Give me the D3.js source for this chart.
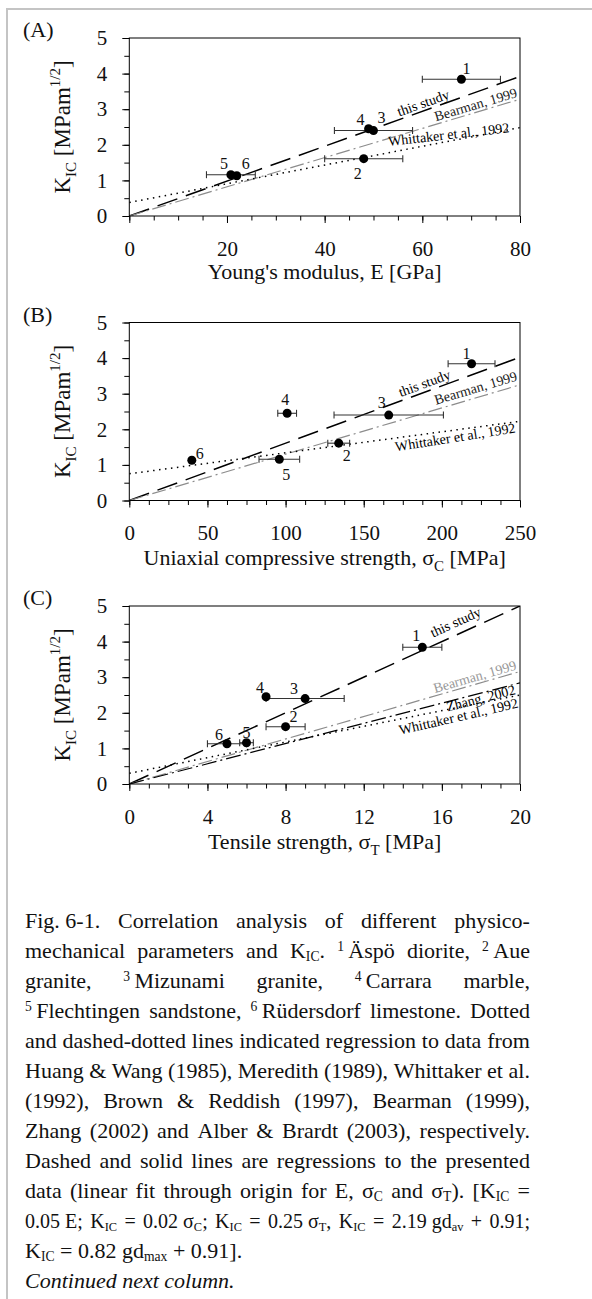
<!DOCTYPE html>
<html>
<head>
<meta charset="utf-8">
<script src="https://cdnjs.cloudflare.com/ajax/libs/d3/7.8.5/d3.min.js"></script>
<style>
  body { margin: 0; background: #fff; }
  #page { position: relative; width: 592px; height: 1299px; overflow: hidden; background: #fff; }
  #page svg { position: absolute; left: 0; top: 0; }
  #caption { position: absolute; left: 25px; top: 906px; width: 505px;
             font-family: "Liberation Serif", serif; font-size: 22px; line-height: 30px; color: #111; }
  #caption .j { display: flex; justify-content: space-between; white-space: nowrap; height: 30px; }
  #caption .l { white-space: nowrap; height: 30px; }
  #caption sub, #caption sup { font-size: 0.62em; line-height: 0; }
  #caption sub { vertical-align: -0.25em; }
  #caption sup { vertical-align: 0.55em; }
</style>
</head>
<body>
<div id="page"></div>
<script>
// ---- data ----
const rockIds = ["1", "2", "3", "4", "5", "6"];
const kicValues = [3.84, 1.61, 2.40, 2.45, 1.16, 1.13];

const youngsModulus = [68, 48, 50, 49, 20.8, 22];
const youngsErr = [8, 8, 8, 0, 5, 0];
const ucsValues = [219, 134, 166, 101, 96, 40];
const ucsErr = [15, 7, 35, 6, 13, 0];
const tensileValues = [15, 8, 9, 7, 6, 5];
const tensileErr = [1, 1, 2, 0, 0.35, 1];

// regression lines: [name, slope, intercept]
const fitsE = [["this study", 0.049, 0], ["Bearman, 1999", 0.041, 0], ["Whittaker et al., 1992", 0.0263, 0.38]];
const fitsUCS = [["this study", 0.0161, 0], ["Bearman, 1999", 0.013, 0], ["Whittaker et al., 1992", 0.0059, 0.75]];
const fitsT = [["this study", 0.25, 0], ["Bearman, 1999", 0.158, 0], ["Zhang, 2002", 0.142, 0], ["Whittaker et al., 1992", 0.11, 0.3]];

const yTicks = [0, 1, 2, 3, 4, 5];
const xTicksE = [0, 20, 40, 60, 80];
const xTicksUCS = [0, 50, 100, 150, 200, 250];
const xTicksT = [0, 4, 8, 12, 16, 20];

// ---- layout / styles ----
const font = "Liberation Serif";
const plotLeft = 129.3, plotRight = 520, plotH = 178;

const fitStyle = {
  "this study": { color: "#000", width: 1.5, dash: "21,9" },
  "Bearman, 1999": { color: "#8c8c8c", width: 1.2, dash: "14,4,2,4" },
  "Zhang, 2002": { color: "#000", width: 1.2, dash: "15,4,2,4" },
  "Whittaker et al., 1992": { color: "#000", width: 1.5, dash: "1.5,4.5" }
};

// number label offsets [dx, dy] per rock, per panel
const ptOffA = [[5, -11], [-6, 15], [8, -13], [-8, -9], [-7, -11], [9, -12]];
const ptOffB = [[-5, -10], [8, 12], [-7, -13], [-2, -14], [7, 15], [8, -7]];
const ptOffC = [[-6, -12], [8, -10], [-11, -10], [-6, -9], [0, -10], [-8, -9]];

// fit label placement: [name, x (data), vertical offset px, angle override, colour]
const fitLabA = [["this study", 60.5, -3, null, "#000"], ["Bearman, 1999", 71.2, -3, null, "#222"],
                 ["Whittaker et al., 1992", 65.5, -2, -6.5, "#000"]];
const fitLabB = [["this study", 189.9, -4, null, "#000"], ["Bearman, 1999", 222.5, -5, null, "#222"],
                 ["Whittaker et al., 1992", 209, 12, -9, "#000"]];
const fitLabC = [["this study", 16.8, -8, null, "#000"], ["Bearman, 1999", 17.75, -3, null, "#999"],
                 ["Zhang, 2002", 18.05, 10, null, "#000"], ["Whittaker et al., 1992", 16.9, 14, -13, "#000"]];

const panels = [
  { tag: "(A)", top: 38, xMax: 80, xMajor: xTicksE, xMinor: 5, xVals: youngsModulus, xErr: youngsErr,
    fits: fitsE, fitLabels: fitLabA, ptOff: ptOffA, titleGap: 68.5,
    title: [["Young's modulus, E [GPa]", false]] },
  { tag: "(B)", top: 322.5, xMax: 250, xMajor: xTicksUCS, xMinor: 12.5, xVals: ucsValues, xErr: ucsErr,
    fits: fitsUCS, fitLabels: fitLabB, ptOff: ptOffB, titleGap: 70,
    title: [["Uniaxial compressive strength, σ", false], ["C", true], [" [MPa]", false]] },
  { tag: "(C)", top: 606, xMax: 20, xMajor: xTicksT, xMinor: 1, xVals: tensileValues, xErr: tensileErr,
    fits: fitsT, fitLabels: fitLabC, ptOff: ptOffC, titleGap: 71,
    title: [["Tensile strength, σ", false], ["T", true], [" [MPa]", false]] }
];

const svg = d3.select("#page").append("svg").attr("width", 592).attr("height", 1299);

// page frame
svg.append("line").attr("x1", 6).attr("x2", 592).attr("y1", 9).attr("y2", 9)
  .attr("stroke", "#c4c4c4").attr("stroke-width", 2);
svg.append("line").attr("x1", 7).attr("x2", 7).attr("y1", 8).attr("y2", 1299)
  .attr("stroke", "#c4c4c4").attr("stroke-width", 2);

panels.forEach((p, pi) => {
  const top = p.top, bottom = top + plotH;
  const x = d3.scaleLinear().domain([0, p.xMax]).range([plotLeft, plotRight]);
  const y = d3.scaleLinear().domain([0, 5]).range([bottom, top]);
  const g = svg.append("g");

  const clipId = "clip" + pi;
  svg.append("clipPath").attr("id", clipId).append("rect")
    .attr("x", plotLeft).attr("y", top).attr("width", plotRight - plotLeft).attr("height", plotH);

  // regression lines
  const fitG = g.append("g").attr("clip-path", `url(#${clipId})`);
  p.fits.forEach(([name, slope, icpt]) => {
    const st = fitStyle[name];
    fitG.append("path").datum([0, p.xMax])
      .attr("d", d3.line().x(d => x(d)).y(d => y(slope * d + icpt)))
      .attr("fill", "none").attr("stroke", st.color).attr("stroke-width", st.width)
      .attr("stroke-dasharray", st.dash);
  });

  // fit labels
  p.fitLabels.forEach(([name, xd, off, angOverride, col]) => {
    const f = p.fits.find(d => d[0] === name);
    const slope = f[1], icpt = f[2];
    const ang = angOverride !== null ? angOverride :
      Math.atan2(y(slope * p.xMax + icpt) - y(icpt), x(p.xMax) - x(0)) * 180 / Math.PI;
    g.append("text")
      .attr("transform", `translate(${x(xd)},${y(slope * xd + icpt) + off}) rotate(${ang})`)
      .attr("text-anchor", "middle").attr("font-family", font).attr("font-size", 14)
      .attr("fill", col).text(name);
  });

  // axes: minor then major ticks
  const styleAxis = a => {
    a.select(".domain").remove();
    a.selectAll("line").attr("stroke", "#000");
    a.selectAll("text").attr("font-family", font).attr("font-size", 21).attr("fill", "#111");
  };
  g.append("g").attr("transform", `translate(0,${bottom})`)
    .call(d3.axisBottom(x).tickValues(d3.range(0, p.xMax + 1e-9, p.xMinor)).tickSize(4.5).tickFormat(""))
    .call(styleAxis);
  g.append("g").attr("transform", `translate(0,${bottom})`)
    .call(d3.axisBottom(x).tickValues(p.xMajor).tickSize(7).tickPadding(18).tickFormat(d3.format("d")))
    .call(styleAxis);
  g.append("g").attr("transform", `translate(${plotLeft},0)`)
    .call(d3.axisLeft(y).tickValues(d3.range(0, 5.01, 0.5)).tickSize(5).tickFormat(""))
    .call(styleAxis);
  g.append("g").attr("transform", `translate(${plotLeft},0)`)
    .call(d3.axisLeft(y).tickValues(yTicks).tickSize(7).tickPadding(15).tickFormat(d3.format("d")))
    .call(styleAxis);

  // frame
  g.append("rect").attr("x", plotLeft).attr("y", top).attr("width", plotRight - plotLeft)
    .attr("height", plotH).attr("fill", "none").attr("stroke", "#000").attr("stroke-width", 1);

  // error bars
  const eb = g.append("g").attr("stroke", "#333").attr("stroke-width", 1.1);
  rockIds.forEach((id, i) => {
    const e = p.xErr[i];
    if (!e) return;
    const yy = y(kicValues[i]);
    eb.append("line").attr("x1", x(p.xVals[i] - e)).attr("x2", x(p.xVals[i] + e)).attr("y1", yy).attr("y2", yy);
    [p.xVals[i] - e, p.xVals[i] + e].forEach(v => {
      eb.append("line").attr("x1", x(v)).attr("x2", x(v)).attr("y1", yy - 3.5).attr("y2", yy + 3.5);
    });
  });

  // points
  g.selectAll("circle.pt").data(rockIds).join("circle")
    .attr("cx", (d, i) => x(p.xVals[i])).attr("cy", (d, i) => y(kicValues[i]))
    .attr("r", 4.5).attr("fill", "#000");

  // point numbers
  g.selectAll("text.num").data(rockIds).join("text")
    .attr("x", (d, i) => x(p.xVals[i]) + p.ptOff[i][0])
    .attr("y", (d, i) => y(kicValues[i]) + p.ptOff[i][1])
    .attr("dy", "0.35em").attr("text-anchor", "middle")
    .attr("font-family", font).attr("font-size", 16).attr("fill", "#111").text(d => d);

  // panel tag
  g.append("text").attr("x", 23).attr("y", top - 1).attr("font-family", font)
    .attr("font-size", 22).attr("fill", "#111").text(p.tag);

  // x title
  const xt = g.append("text").attr("x", (plotLeft + plotRight) / 2).attr("y", bottom + p.titleGap)
    .attr("text-anchor", "middle").attr("font-family", font).attr("font-size", 22).attr("fill", "#111");
  p.title.forEach(([t, sub]) => {
    if (sub) xt.append("tspan").attr("dy", 6).attr("font-size", 15).text(t);
    else xt.append("tspan").attr("dy", xt.selectAll("tspan").size() ? -6 : 0).text(t);
  });

  // y title
  const yt = g.append("text")
    .attr("transform", `translate(70,${(top + bottom) / 2}) rotate(-90)`)
    .attr("text-anchor", "middle").attr("font-family", font).attr("font-size", 23).attr("fill", "#111");
  yt.append("tspan").text("K");
  yt.append("tspan").attr("dy", 6).attr("font-size", 15).text("IC");
  yt.append("tspan").attr("dy", -6).text(" [MPam");
  yt.append("tspan").attr("dy", -10).attr("font-size", 15).text("1/2");
  yt.append("tspan").attr("dy", 10).text("]");
});

// ---- caption ----
const captionLines = [
  ["Fig. 6-1.", "Correlation", "analysis", "of", "different", "physico-"],
  ["mechanical", "parameters", "and", "K<sub>IC</sub>.", "<sup>1</sup>&#8201;Äspö", "diorite,", "<sup>2</sup>&#8201;Aue"],
  ["granite,", "<sup>3</sup>&#8201;Mizunami", "granite,", "<sup>4</sup>&#8201;Carrara", "marble,"],
  ["<sup>5</sup>&#8201;Flechtingen", "sandstone,", "<sup>6</sup>&#8201;Rüdersdorf", "limestone.", "Dotted"],
  ["and", "dashed-dotted", "lines", "indicated", "regression", "to", "data", "from"],
  ["Huang", "&amp;", "Wang", "(1985),", "Meredith", "(1989),", "Whittaker", "et", "al."],
  ["(1992),", "Brown", "&amp;", "Reddish", "(1997),", "Bearman", "(1999),"],
  ["Zhang", "(2002)", "and", "Alber", "&amp;", "Brardt", "(2003),", "respectively."],
  ["Dashed", "and", "solid", "lines", "are", "regressions", "to", "the", "presented"],
  ["data", "(linear", "fit", "through", "origin", "for", "E,", "σ<sub>C</sub>", "and", "σ<sub>T</sub>).", "[K<sub>IC</sub>", "="],
  ["0.05&nbsp;E;", "K<sub>IC</sub>", "=", "0.02&nbsp;σ<sub>C</sub>;", "K<sub>IC</sub>", "=", "0.25&nbsp;σ<sub>T</sub>,",
   "K<sub>IC</sub>", "=", "2.19&nbsp;gd<sub>av</sub>", "+", "0.91;"]
];
const captionTail = ["K<sub>IC</sub> = 0.82 gd<sub>max</sub> + 0.91].", "<i>Continued next column.</i>"];

const cap = d3.select("#page").append("div").attr("id", "caption");
captionLines.forEach((words, li) => {
  const row = cap.append("div").attr("class", "j");
  if (li === 10) row.style("font-size", "20px");
  words.forEach(w => row.append("span").html(w));
});
captionTail.forEach(t => cap.append("div").attr("class", "l").html(t));
</script>
</body>
</html>
